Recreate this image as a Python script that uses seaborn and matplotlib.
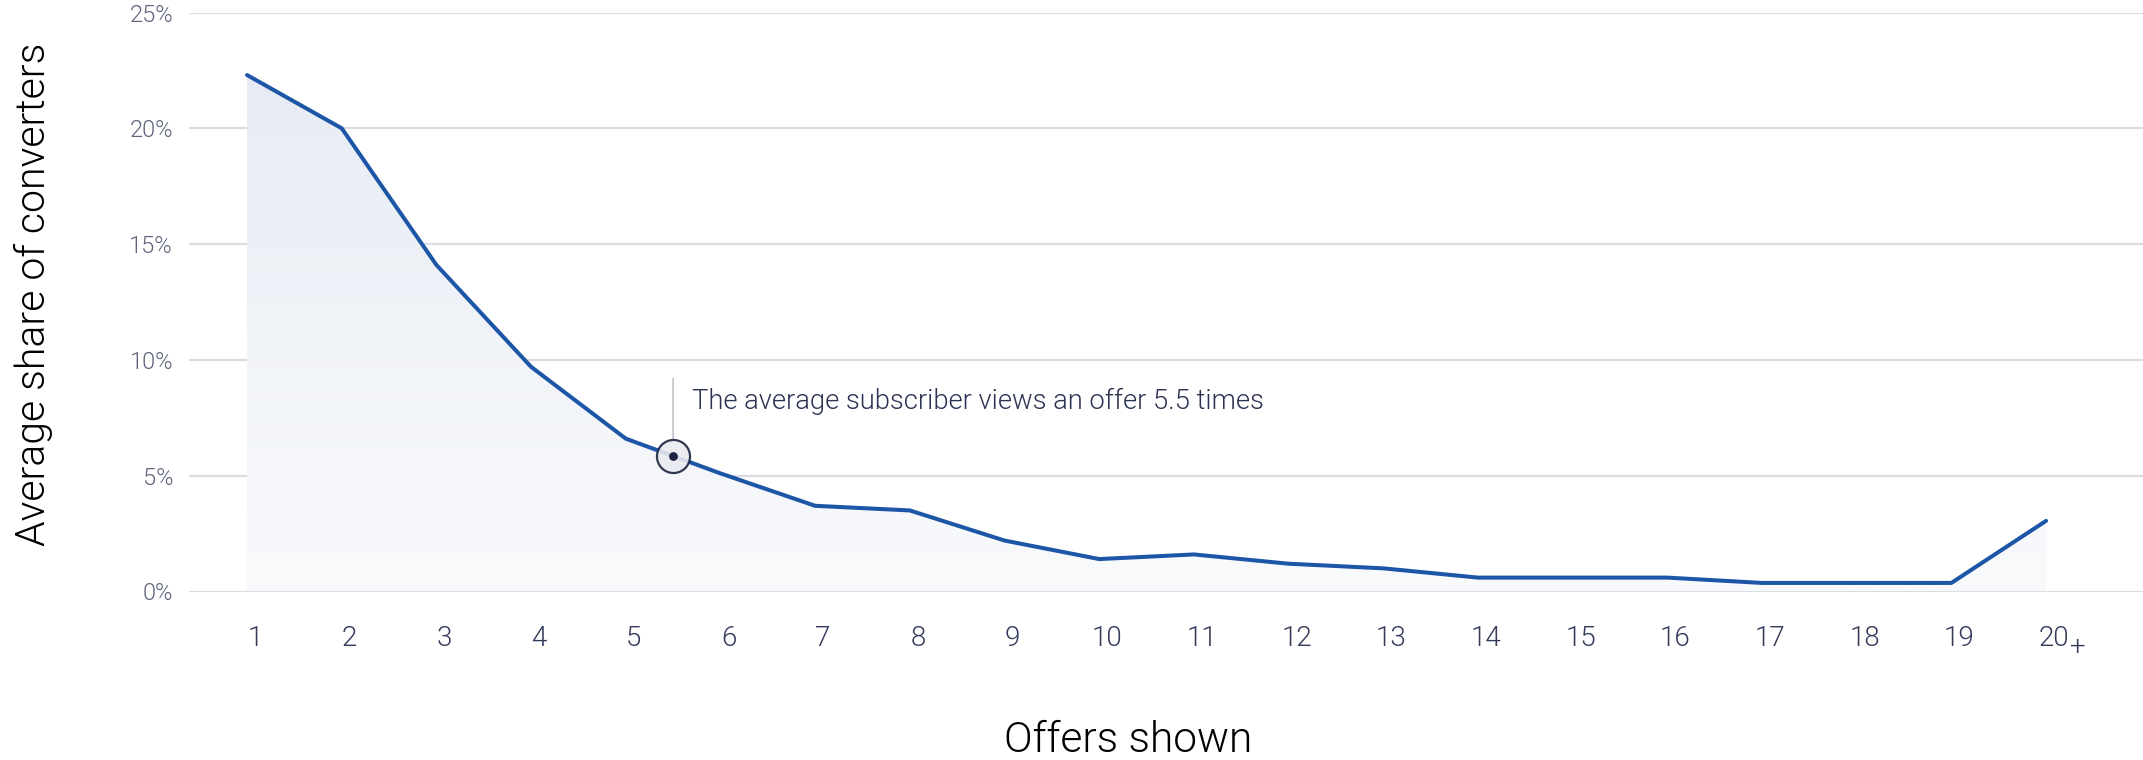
import numpy as np
import matplotlib
matplotlib.use("Agg")
import matplotlib.pyplot as plt
import matplotlib.transforms as mtransforms
from matplotlib import font_manager as fm
from matplotlib.colors import LinearSegmentedColormap
import pandas as pd
import seaborn as sns

# Share of converters by number of offers shown
offers = list(range(1, 21))
share = [22.3, 20.0, 14.1, 9.7, 6.6, 5.1, 3.7, 3.5, 2.2, 1.4,
         1.6, 1.2, 1.0, 0.6, 0.6, 0.6, 0.37, 0.37, 0.37, 3.05]
x_labels = [str(i) for i in offers]
y_ticks = [0, 5, 10, 15, 20, 25]
y_tick_labels = ["0%", "5%", "10%", "15%", "20%", "25%"]

avg_views = 5.5
note = "The average subscriber views an offer 5.5 times"

sns.set_theme(style="white")
plt.rcParams["font.family"] = ["Roboto", "DejaVu Sans"]

# pick a true 300-weight face for the thin text
def _light_face():
    for fam in ["Roboto", "Open Sans", "Lato", "Inter", "Noto Sans"]:
        for f in fm.fontManager.ttflist:
            if f.name == fam and f.weight == 300 and f.style == "normal":
                return fam
    return None

LIGHT_FAM = _light_face()
light = dict(family=[LIGHT_FAM, "DejaVu Sans"], weight=300) if LIGHT_FAM else dict(weight="normal")

LINE = "#1d56a6"
GRID = "#dcdde2"
XTICK = "#343a5a"
YTICK = "#5e647c"
NOTE = "#2c3252"
NAVY = "#1c2340"

fig = plt.figure(figsize=(21.43, 7.60), dpi=100)
ax = fig.add_axes([189 / 2143, 168.5 / 760, 1 - 189 / 2143, (747.5 - 168.5) / 760])

df = pd.DataFrame({"offers": offers, "share": share})

# gradient fill beneath the curve
poly = ax.fill_between(df["offers"], df["share"], 0, color="none", lw=0)
cmap = LinearSegmentedColormap.from_list("fade", ["#f9fafc", "#e7ecf4"])
grad = np.linspace(0, 1, 256).reshape(-1, 1)
img = ax.imshow(grad, cmap=cmap, aspect="auto", origin="lower",
                extent=[offers[0], offers[-1], 0, max(share)], zorder=1)
img.set_clip_path(poly.get_paths()[0], transform=ax.transData)

sns.lineplot(data=df, x="offers", y="share", ax=ax, color=LINE, lw=2.9,
             zorder=3, solid_joinstyle="round")
ax.set_xlabel("")
ax.set_ylabel("")

ax.set_xlim(0.387, 21.024)
ax.set_ylim(0, 25)
ax.set_yticks(y_ticks)
ax.set_yticklabels(y_tick_labels, **light)
ax.set_xticks(offers)
ax.set_xticklabels(x_labels, **light)
ax.grid(axis="y", color=GRID, lw=1.6, zorder=0)
ax.grid(axis="x", visible=False)
for s in ax.spines.values():
    s.set_visible(False)
ax.tick_params(axis="x", length=0, pad=24, labelsize=20, labelcolor=XTICK)
ax.tick_params(axis="y", length=0, pad=11.5, labelsize=17, labelcolor=YTICK)
shift = mtransforms.ScaledTranslation(8 / 100, 0, fig.dpi_scale_trans)
for lab in ax.get_xticklabels():
    lab.set_transform(lab.get_transform() + shift)

# "+" suffix on the last category
ax.annotate("+", xy=(offers[-1], 0), xycoords="data", xytext=(17, -40),
            textcoords="offset points", ha="left", va="center",
            fontsize=20, color=XTICK, **light)

# average-views marker on the curve
ym = float(np.interp(avg_views, offers, share))
ax.annotate("", xy=(avg_views, ym), xytext=(0, 55.7), textcoords="offset points",
            arrowprops=dict(arrowstyle="-", color="#c8cbd2", lw=1.4,
                            shrinkA=0, shrinkB=11.9), zorder=4)
ax.scatter([avg_views], [ym], s=(2 * 11.9) ** 2, facecolor="#e9ebf0",
           edgecolor=NAVY, linewidth=1.6, zorder=4, alpha=0.9)
ax.scatter([avg_views], [ym], s=40, color=NAVY, zorder=5, linewidth=0)
ax.annotate(note, xy=(avg_views, ym), xytext=(13.7, 39.5), textcoords="offset points",
            ha="left", va="center", fontsize=19.7, color=NOTE, **light)

fig.text(33 / 2143, 466 / 760, "Average share of converters", rotation=90,
         ha="center", va="center", fontsize=29.5, color="#000000", **light)
fig.text(1128 / 2143, 19 / 760, "Offers shown", ha="center", va="center",
         fontsize=30.5, color="#000000", **light)

fig.savefig("out.png", dpi=100)
